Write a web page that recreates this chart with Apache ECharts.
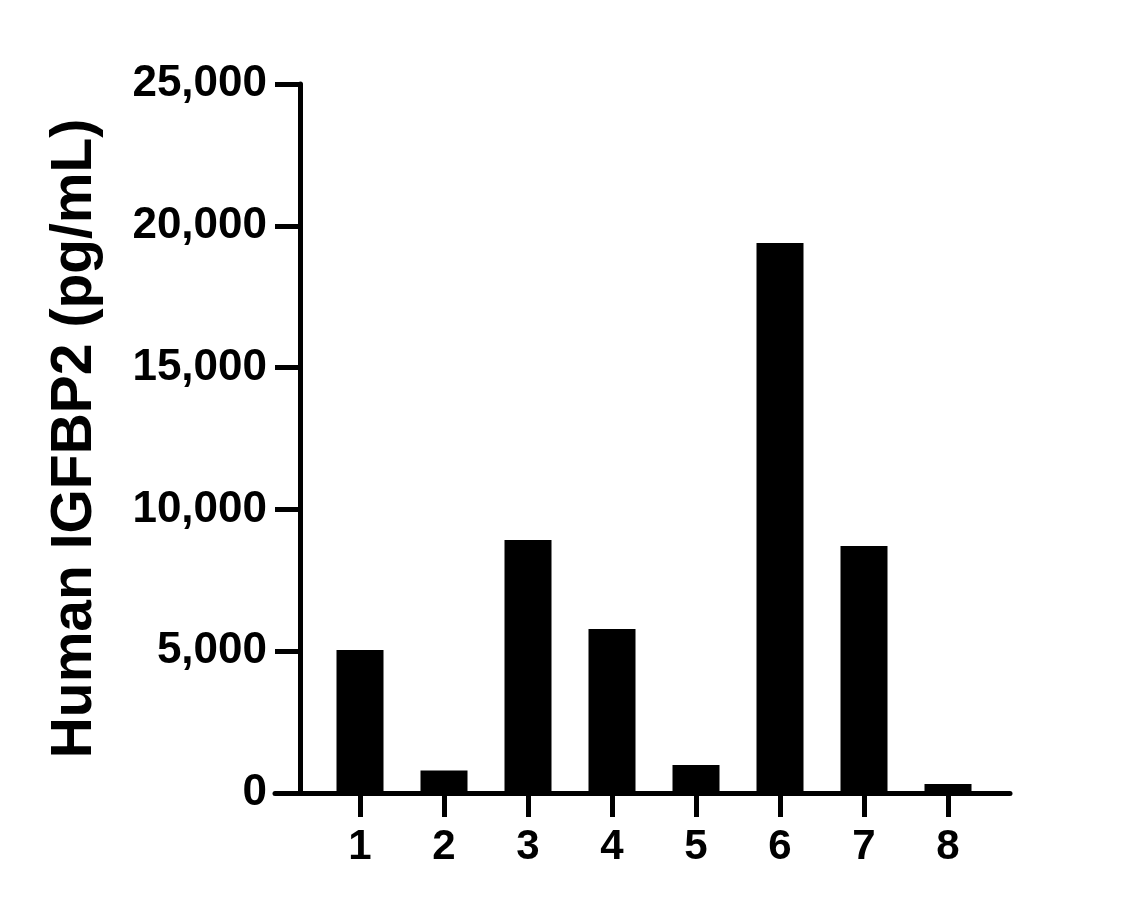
<!DOCTYPE html>
<html>
<head>
<meta charset="utf-8">
<title>Human IGFBP2</title>
<script src="https://cdn.jsdelivr.net/npm/echarts@6/dist/echarts.min.js"></script>
<style>
  html, body { margin: 0; padding: 0; background: #fff; }
  #chart { width: 1147px; height: 909px; }
</style>
</head>
<body>
<div id="chart"></div>
<script>
const samples = ["1", "2", "3", "4", "5", "6", "7", "8"];
const igfbp2 = [5040, 790, 8920, 5780, 990, 19390, 8710, 320];
const yTicks = [0, 5000, 10000, 15000, 20000, 25000];

const font = 'Arial, "Liberation Sans", Helvetica, sans-serif';
const ink = "#000";

const chart = echarts.init(document.getElementById("chart"));

chart.setOption({
  backgroundColor: "#fff",
  animation: false,
  grid: [
    // bars sit in this one
    { left: 318, right: 157, top: 84, bottom: 116 },
    // only used to draw the long x axis line
    { left: 275, right: 137, top: 84, bottom: 116 },
  ],
  xAxis: [
    {
      type: "category",
      gridIndex: 0,
      data: samples,
      axisLine: { show: false },
      axisTick: {
        show: true,
        alignWithLabel: true,
        length: 24,
        lineStyle: { color: ink, width: 5 },
      },
      axisLabel: {
        color: ink,
        fontFamily: font,
        fontWeight: "bold",
        fontSize: 42,
        margin: 33,
      },
    },
    {
      type: "value",
      gridIndex: 1,
      min: 0,
      max: 1,
      axisLine: { show: true, lineStyle: { color: ink, width: 5 } },
      axisTick: { show: false },
      axisLabel: { show: false },
      splitLine: { show: false },
    },
  ],
  yAxis: [
    {
      type: "value",
      gridIndex: 0,
      min: yTicks[0],
      max: yTicks[yTicks.length - 1],
      interval: yTicks[1] - yTicks[0],
      offset: 18,
      name: "Human IGFBP2 (pg/mL)",
      nameLocation: "middle",
      nameRotate: 90,
      nameGap: 196,
      nameTextStyle: {
        color: ink,
        fontFamily: font,
        fontWeight: "bold",
        fontSize: 57,
      },
      axisLine: { show: true, lineStyle: { color: ink, width: 5 } },
      axisTick: {
        show: true,
        length: 25,
        lineStyle: { color: ink, width: 5 },
      },
      axisLabel: {
        color: ink,
        fontFamily: font,
        fontWeight: "bold",
        fontSize: 44,
        margin: 33,
        formatter: (v) => v.toLocaleString("en-US"),
      },
      splitLine: { show: false },
    },
    {
      type: "value",
      gridIndex: 1,
      show: false,
    },
  ],
  series: [
    {
      type: "bar",
      xAxisIndex: 0,
      yAxisIndex: 0,
      data: igfbp2,
      barWidth: 47,
      itemStyle: { color: ink },
    },
  ],
});
</script>
</body>
</html>
